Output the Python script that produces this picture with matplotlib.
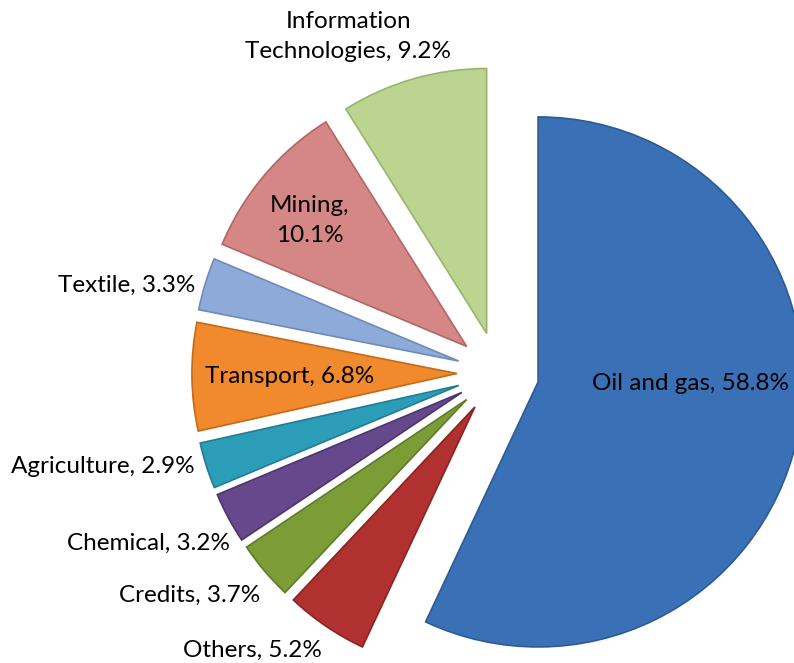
import numpy as np
import matplotlib
matplotlib.use("Agg")
import matplotlib.pyplot as plt

# ---- data ----
sectors = ["Oil and gas", "Others", "Credits", "Chemical", "Agriculture",
           "Transport", "Textile", "Mining", "Information\nTechnologies"]
shares = [58.8, 5.2, 3.7, 3.2, 2.9, 6.8, 3.3, 10.1, 9.2]
label_sep = [", ", ", ", ", ", ", ", ", ", ", ", ", ", ",\n", ", "]

# ---- style / layout ----
colors = ["#3A70B5", "#B0312F", "#7C9D36", "#65498C", "#2C9DB9",
          "#F08A2C", "#8EAAD9", "#D48785", "#BBD590"]
edges = ["#2D5A93", "#8A2422", "#5F7B27", "#4D366C", "#217C93",
         "#C46A1A", "#6F8BBB", "#B06866", "#98B46F"]
explode = [0.155] * len(shares)
# label placement (radius in pie radii, angle in degrees) around pie centre
lab_r = [0.726, 1.24, 1.228, 1.198, 1.197, 0.785, 1.19, 0.913, 1.389]
lab_a = [-3.0, 237.6, 223.0, 212.4, 197.2, 181.0, 163.8, 141.0, 114.0]
lab_ha = ["center", "right", "right", "right", "right", "center", "right", "center", "center"]

plt.rcParams['font.family'] = ['Lato', 'DejaVu Sans']

W, H, dpi = 794, 663, 100
fig = plt.figure(figsize=(W / dpi, H / dpi), dpi=dpi)
ax = fig.add_axes([0, 0, 1, 1])

wedges, _ = ax.pie(shares, colors=colors, explode=explode, startangle=90,
                   counterclock=False, radius=1.0,
                   wedgeprops=dict(linewidth=1.2))
for w, ec in zip(wedges, edges):
    w.set_edgecolor(ec)

R_px = 265.0
cx_px, cy_px = 498.0, 373.0
ax.set_xlim(-cx_px / R_px, (W - cx_px) / R_px)
ax.set_ylim(-(H - cy_px) / R_px, cy_px / R_px)
ax.set_aspect('equal')
ax.axis('off')

for name, val, sep, r, a, ha in zip(sectors, shares, label_sep, lab_r, lab_a, lab_ha):
    t = np.deg2rad(a)
    ax.text(r * np.cos(t), r * np.sin(t), f"{name}{sep}{val}%",
            ha=ha, va="center", multialignment="center",
            fontsize=17.5, color="black", linespacing=1.55)

fig.savefig("out.png", dpi=dpi)
